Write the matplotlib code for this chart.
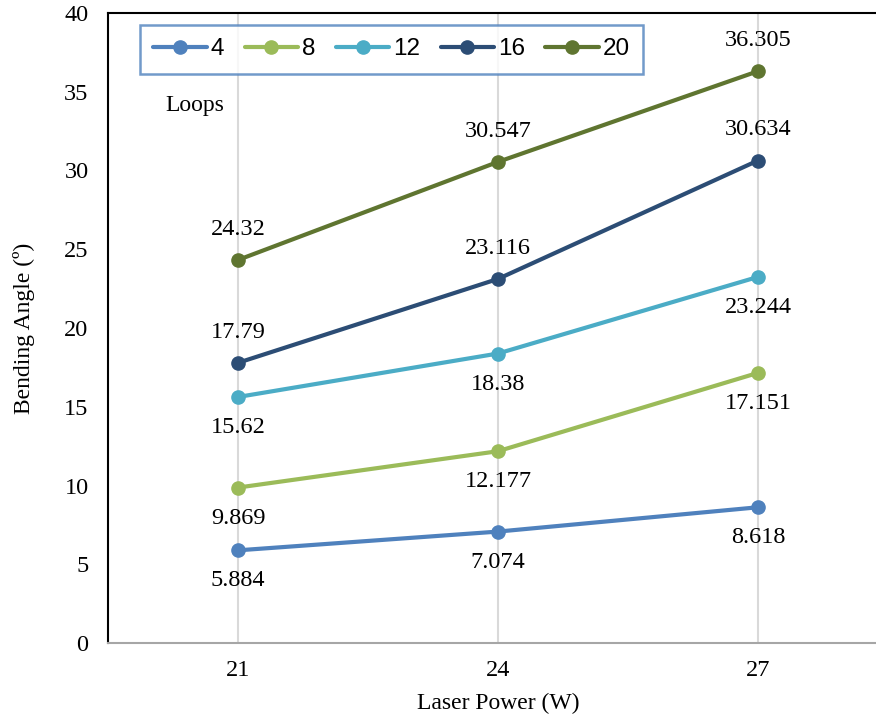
import matplotlib.pyplot as plt

# data
powers = ["21", "24", "27"]
loops = ["4", "8", "12", "16", "20"]
angle_4 = [5.884, 7.074, 8.618]
angle_8 = [9.869, 12.177, 17.151]
angle_12 = [15.62, 18.38, 23.244]
angle_16 = [17.79, 23.116, 30.634]
angle_20 = [24.32, 30.547, 36.305]
label_text_4 = ["5.884", "7.074", "8.618"]
label_text_8 = ["9.869", "12.177", "17.151"]
label_text_12 = ["15.62", "18.38", "23.244"]
label_text_16 = ["17.79", "23.116", "30.634"]
label_text_20 = ["24.32", "30.547", "36.305"]

series = [angle_4, angle_8, angle_12, angle_16, angle_20]
texts = [label_text_4, label_text_8, label_text_12, label_text_16, label_text_20]
colors = ["#4F81BD", "#9BBB59", "#4BACC6", "#2C4D75", "#5F7530"]
label_above = [False, False, False, True, True]

serif = ["Liberation Serif", "DejaVu Serif"]
sans = ["Liberation Sans", "DejaVu Sans"]

fig = plt.figure(figsize=(8.76, 7.24), dpi=100)
ax = fig.add_axes([108 / 876, 81 / 724, 780 / 876, 630 / 724])

x = list(range(len(powers)))
for vals, txt, col, above, name in zip(series, texts, colors, label_above, loops):
    ax.plot(x, vals, color=col, linewidth=3.0, marker="o", markersize=9.5,
            label=name, zorder=3, solid_capstyle="round")
    for xi, v, t in zip(x, vals, txt):
        off = 22 if above else -22
        ax.annotate(t, (xi, v), xytext=(0, off), textcoords="offset points",
                    ha="center", va="center", fontsize=17.5, family=serif)

ax.set_xlim(-0.5, 2.5)
ax.set_ylim(0, 40)
ax.set_xticks(x)
ax.set_xticklabels(powers)
ax.set_yticks(range(0, 41, 5))
ax.tick_params(length=0, labelsize=17.5)
for lab in ax.get_xticklabels() + ax.get_yticklabels():
    lab.set_family(serif)
ax.tick_params(axis="y", pad=14)
ax.tick_params(axis="x", pad=12)

ax.grid(axis="x", color="#D9D9D9", linewidth=1.5, zorder=0)
ax.set_axisbelow(True)

ax.spines["right"].set_visible(False)
ax.spines["top"].set_color("black")
ax.spines["top"].set_linewidth(1.5)
ax.spines["left"].set_color("black")
ax.spines["left"].set_linewidth(1.5)
ax.spines["bottom"].set_color("#A6A6A6")
ax.spines["bottom"].set_linewidth(1.5)

ax.set_xlabel("Laser Power (W)", fontsize=17, family=serif, labelpad=9)
ax.set_ylabel("Bending Angle (º)", fontsize=17, family=serif, labelpad=21)

leg = ax.legend(loc="upper left", bbox_to_anchor=(32 / 780, 1 - 12 / 630),
                ncol=5, frameon=True, fancybox=False, handlelength=2.2,
                columnspacing=0.85, handletextpad=0.15, borderpad=0.55,
                prop={"family": sans, "size": 17.5}, borderaxespad=0)
leg.get_frame().set_edgecolor("#4F81BD")
leg.get_frame().set_linewidth(1.8)

ax.text(57 / 780, 1 - 92 / 630, "Loops", transform=ax.transAxes,
        fontsize=17, family=serif, va="center", ha="left")

fig.savefig("out.png", dpi=100)
